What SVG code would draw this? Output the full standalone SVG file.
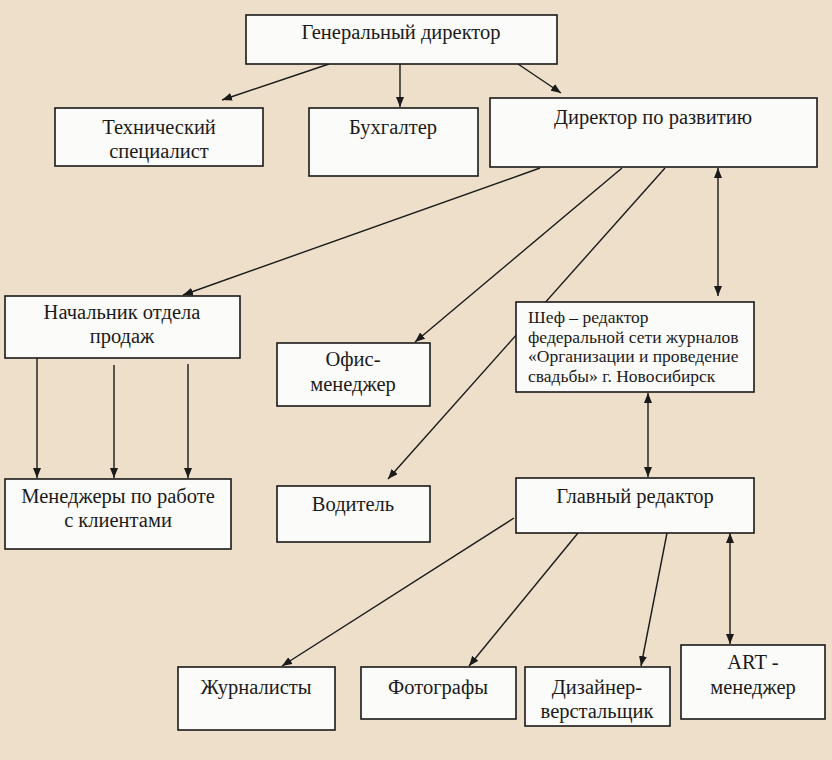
<svg xmlns="http://www.w3.org/2000/svg" width="832" height="760" viewBox="0 0 832 760">
<style>
.box{fill:#fbfbfa;stroke:#1a1a1a;stroke-width:1.6}
.t{font-family:"Liberation Serif","Times New Roman",serif;font-size:20.5px;fill:#1a1a1a;text-anchor:middle}
.s{font-family:"Liberation Serif","Times New Roman",serif;font-size:17.5px;fill:#1a1a1a}
.c{stroke:#1a1a1a;stroke-width:1.4;fill:none;marker-end:url(#a)}
.d{marker-start:url(#a)}
</style>
<defs>
<marker id="a" viewBox="0 0 10 8" refX="10" refY="4" markerWidth="10" markerHeight="8" markerUnits="userSpaceOnUse" orient="auto-start-reverse">
<path d="M0,0 L10,4 L0,8 Z" fill="#1a1a1a"/>
</marker>
</defs>
<rect width="832" height="760" fill="#eddfc9"/>
<g id="connectors">
<line class="c" x1="329" y1="64" x2="222" y2="100"/>
<line class="c" x1="400" y1="64" x2="400" y2="107"/>
<line class="c" x1="518" y1="64" x2="561" y2="93"/>
<line class="c" x1="540" y1="168" x2="183" y2="295"/>
<line class="c" x1="622" y1="168" x2="415" y2="342"/>
<line class="c" x1="665" y1="168" x2="388" y2="479"/>
<line class="c d" x1="718" y1="168" x2="718" y2="296"/>
<line class="c d" x1="648" y1="393" x2="648" y2="477"/>
<line class="c" x1="37" y1="358" x2="37" y2="478"/>
<line class="c" x1="114" y1="365" x2="114" y2="478"/>
<line class="c" x1="188" y1="364" x2="188" y2="478"/>
<line class="c" x1="514" y1="518" x2="282" y2="666"/>
<line class="c" x1="578" y1="533" x2="469" y2="666"/>
<line class="c" x1="667" y1="533" x2="641" y2="666"/>
<line class="c d" x1="730" y1="533" x2="730" y2="644"/>
</g>
<g id="gen"><rect class="box" x="246" y="15" width="311" height="49"/><text class="t" x="401" y="39">Генеральный директор</text></g>
<g id="tech"><rect class="box" x="55" y="108" width="208" height="58"/><text class="t" x="159" y="134">Технический</text><text class="t" x="159" y="158">специалист</text></g>
<g id="buh"><rect class="box" x="309" y="108" width="169" height="68"/><text class="t" x="393" y="134">Бухгалтер</text></g>
<g id="dir"><rect class="box" x="490" y="98" width="327" height="69"/><text class="t" x="653" y="124">Директор по развитию</text></g>
<g id="nach"><rect class="box" x="5" y="296" width="235" height="62"/><text class="t" x="122" y="319">Начальник отдела</text><text class="t" x="122" y="343">продаж</text></g>
<g id="office"><rect class="box" x="277" y="343" width="153" height="63"/><text class="t" x="353" y="366">Офис-</text><text class="t" x="353" y="391">менеджер</text></g>
<g id="chef"><rect class="box" x="516" y="302" width="238" height="90"/>
<text class="s" x="528" y="323">Шеф – редактор</text>
<text class="s" x="528" y="343">федеральной сети журналов</text>
<text class="s" x="528" y="362">«Организации и проведение</text>
<text class="s" x="528" y="382">свадьбы» г. Новосибирск</text></g>
<g id="managers"><rect class="box" x="5" y="479" width="226" height="70"/><text class="t" x="118" y="503">Менеджеры по работе</text><text class="t" x="118" y="527">с клиентами</text></g>
<g id="driver"><rect class="box" x="277" y="486" width="153" height="56"/><text class="t" x="353" y="511">Водитель</text></g>
<g id="glav"><rect class="box" x="516" y="478" width="238" height="55"/><text class="t" x="635" y="503">Главный редактор</text></g>
<g id="journ"><rect class="box" x="178" y="667" width="157" height="63"/><text class="t" x="256" y="694">Журналисты</text></g>
<g id="photo"><rect class="box" x="361" y="667" width="155" height="52"/><text class="t" x="438" y="694">Фотографы</text></g>
<g id="design"><rect class="box" x="525" y="667" width="145" height="59"/><text class="t" x="597" y="694">Дизайнер-</text><text class="t" x="597" y="718">верстальщик</text></g>
<g id="art"><rect class="box" x="681" y="645" width="144" height="74"/><text class="t" x="753" y="669">ART -</text><text class="t" x="753" y="694">менеджер</text></g>
</svg>
